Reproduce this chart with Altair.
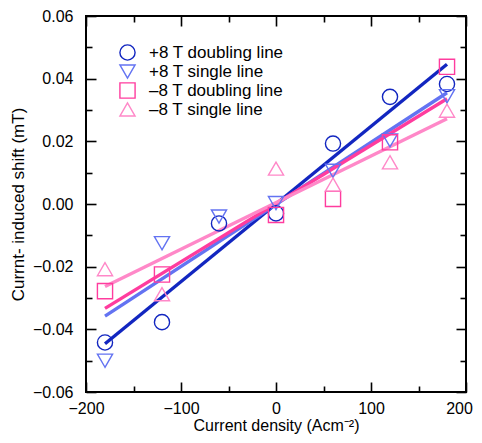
import altair as alt
import pandas as pd

# ---------------- data ----------------
x_vals = [-180, -120, -60, 0, 60, 120, 180]
series_names = ["+8 T doubling line", "+8 T single line",
                "–8 T doubling line", "–8 T single line"]
p8_double = [-0.0442, -0.0377, -0.0062, -0.0030, 0.0193, 0.0342, 0.0383]
p8_single = [-0.0500, -0.0125, -0.0040, 0.0003, 0.0106, 0.0203, 0.0344]
m8_double = [-0.0278, -0.0225, None, -0.0035, 0.0016, 0.0197, 0.0438]
m8_single = [-0.0208, -0.0288, None, 0.0113, 0.0062, 0.0133, 0.0298]

fit_x = [-180, 180]
fit_p8_double = [-0.0446, 0.0446]
fit_p8_single = [-0.0358, 0.0355]
fit_m8_double = [-0.0333, 0.0336]
fit_m8_single = [-0.0263, 0.0272]

x_major = [-200, -100, 0, 100]
x_last = [200]
x_minor = [-150, -50, 50, 150]
y_major = [-0.06, -0.04, -0.02, 0.0, 0.02, 0.04, 0.06]
y_minor = [-0.05, -0.03, -0.01, 0.01, 0.03, 0.05]

colors = ["#1226c0", "#6373f2", "#ff3c9e", "#ff88c8"]
shapes = ["circle", "triangle-down", "square", "triangle-up"]

# ---------------- tables ----------------
pt_rows = []
for name, ys in zip(series_names, [p8_double, p8_single, m8_double, m8_single]):
    for xv, yv in zip(x_vals, ys):
        if yv is not None:
            pt_rows.append({"x": xv, "y": yv, "series": name})
pts = pd.DataFrame(pt_rows)

ln_rows = []
for name, ys in zip(series_names,
                    [fit_p8_double, fit_p8_single, fit_m8_double, fit_m8_single]):
    for xv, yv in zip(fit_x, ys):
        ln_rows.append({"x": xv, "y": yv, "series": name})
lns = pd.DataFrame(ln_rows)

FONT = "Liberation Sans"
xscale = alt.Scale(domain=[-200, 200], nice=False, zero=False)
yscale = alt.Scale(domain=[-0.06, 0.06], nice=False, zero=False)
cscale = alt.Scale(domain=series_names, range=colors)
sscale = alt.Scale(domain=series_names, range=shapes)
# line colours: same pairs, listed in reverse so that the lines keep no legend
lscale = alt.Scale(domain=series_names[::-1], range=colors[::-1])

TICK = 10
MINOR = 6


def axis(orient, values, size, labels=False, title=None, fmt=None, pad=0, tpad=0,
         loff=0, tsize=17):
    kw = dict(orient=orient, values=values, tickSize=size, offset=-size,
              domain=False, grid=False, labels=labels, tickColor="black",
              tickWidth=1.6)
    if labels:
        kw.update(labelFont=FONT, labelFontSize=16, labelColor="black",
                  labelPadding=pad, format=fmt, labelFlush=False, labelOverlap=False,
                  labelOffset=loff)
    if title is not None:
        kw.update(title=title, titleFont=FONT, titleFontSize=tsize,
                  titleFontWeight="normal", titleColor="black", titlePadding=tpad)
    else:
        kw.update(title=None)
    return alt.Axis(**kw)


lines = alt.Chart(lns).mark_line(strokeWidth=3.4).encode(
    x=alt.X("x:Q", scale=xscale,
            axis=axis("bottom", x_major, TICK, labels=True,
                      title="Current density (Acm⁻²)", fmt="d", pad=8, tpad=1, tsize=16)),
    y=alt.Y("y:Q", scale=yscale,
            axis=axis("left", y_major, TICK, labels=True,
                      title="Currnt- induced shift (mT)", fmt=".2f", pad=13, tpad=5)),
    stroke=alt.Stroke("series:N", scale=lscale, legend=None),
)

points = alt.Chart(pts).mark_point(filled=False, strokeWidth=1.4, size=230, opacity=1).encode(
    x=alt.X("x:Q", scale=xscale, axis=axis("top", x_major + x_last, TICK)),
    y=alt.Y("y:Q", scale=yscale, axis=axis("right", y_major, TICK)),
    color=alt.Color("series:N", scale=cscale, title=None),
    shape=alt.Shape("series:N", scale=sscale, title=None),
)

minor_a = alt.Chart(pts).mark_point(opacity=0).encode(
    x=alt.X("x:Q", scale=xscale, axis=axis("bottom", x_minor, MINOR)),
    y=alt.Y("y:Q", scale=yscale, axis=axis("left", y_minor, MINOR)),
)
minor_b = alt.Chart(pts).mark_point(opacity=0).encode(
    x=alt.X("x:Q", scale=xscale, axis=axis("top", x_minor, MINOR)),
    y=alt.Y("y:Q", scale=yscale, axis=axis("right", y_minor, MINOR)),
)
edge = alt.Chart(pts).mark_point(opacity=0).encode(
    x=alt.X("x:Q", scale=xscale,
            axis=axis("bottom", x_last, TICK, labels=True, fmt="d", pad=8, loff=-7)),
    y=alt.Y("y:Q", scale=yscale, axis=None),
)

chart = alt.layer(lines, points, minor_a, minor_b, edge).resolve_axis(
    x="independent", y="independent"
).properties(
    width=380, height=376,
    autosize=alt.AutoSizeParams(type="none"),
    padding={"left": 78, "top": 8, "right": 8, "bottom": 43},
    background="white",
).configure_view(
    stroke="black", strokeWidth=2
).configure_legend(
    orient="none", legendX=33, legendY=28,
    labelFont=FONT, labelFontSize=17, labelColor="black",
    symbolSize=230, symbolStrokeWidth=1.4,
    rowPadding=-1, labelOffset=13, padding=0
)

chart.save("out.html", embed_options={"renderer": "svg", "actions": False})
